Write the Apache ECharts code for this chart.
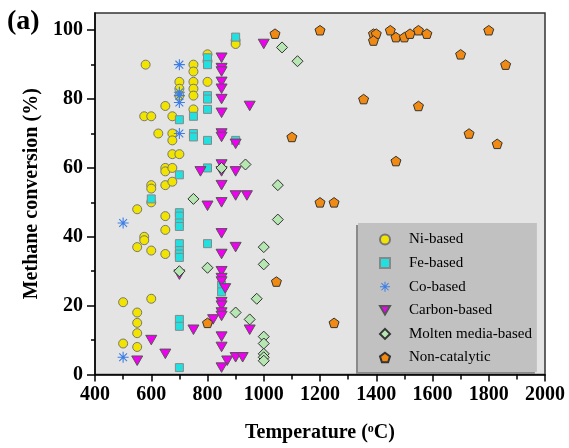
<!DOCTYPE html>
<html><head><meta charset="utf-8">
<script src="https://cdn.jsdelivr.net/npm/echarts/dist/echarts.min.js"></script>
<style>html,body{margin:0;padding:0;background:#fff}#c{width:569px;height:448px}</style>
</head><body><div id="c"></div>
<script>
// Data: [temperature (°C), methane conversion (%)]
const seriesNames = ['Ni-based','Fe-based','Co-based','Carbon-based','Molten media-based','Non-catalytic'];
const niBased = [
[580,90],[750,90],[750,88],[800,93],[800,91],[900,97],[900,96],
[700,85],[750,85],[750,83],[750,81],[800,85],[700,83],[700,81],
[650,78],[750,77],[575,75],[600,75],[675,75],
[625,70],[675,70],[675,68],[675,64],[700,64],
[650,60],[650,59],[675,60],[600,55],[600,54],[650,55],[675,56],
[600,50],[550,48],[650,46],[650,42],[575,40],[575,39],[550,37],[600,36],[650,35],
[500,21],[600,22],[550,18],[550,15],[550,12],[500,9],[550,8]
];
const feBased = [
[900,98],[800,92],[800,90],[800,81],[800,80],[800,77],[750,75],[700,74],[750,70],[750,69],
[800,68],[900,68],[700,58],[800,60],[600,51],
[700,47],[700,46],[700,44],[700,43],[700,38],[700,36],[700,35],[700,34],[800,38],
[850,26],[850,24],[700,16],[700,14],[700,2]
];
const coBased = [[700,90],[700,82],[700,81],[700,79],[700,70],[500,44],[500,5]];
const carbonBased = [
[1000,96],[850,92],[850,89],[850,88],[850,85],[850,83],[850,80],[950,78],[850,76],[850,70],
[850,69],[900,67],[775,59],[850,61],[850,59],[900,59],[850,55],[900,52],[940,52],
[800,49],[850,50],[850,41],[900,37],[850,35],[700,29],[850,30],[850,28],[850,27],[863,25],
[850,21],[850,20],[850,18],[850,17],[820,16],[750,13],[950,13],[850,11],[600,10],[850,8],
[650,6],[550,4],[870,4],[900,5],[925,5],[850,2]
];
const moltenBased = [
[935,61],[850,60],[750,51],[1065,95],[1120,91],[1050,55],[1050,45],[1000,37],[1000,32],[700,30],
[800,31],[975,22],[900,18],[950,16],[1000,11],[1000,9],[1000,6],[1000,5],[1000,4]
];
const nonCatalytic = [
[800,15],[1040,99],[1200,100],[1390,99],[1400,99],[1390,97],[1450,100],[1470,98],[1500,98],
[1355,80],[1100,69],[1470,62],[1520,99],[1550,100],[1580,99],[1800,100],[1700,93],[1860,90],
[1550,78],[1730,70],[1830,67],[1200,50],[1250,50],[1045,27],[1250,15]
];
const yMajorTicks = [0,20,40,60,80,100];
const yMinorTicks = [10,30,50,70,90];

const FONT = "'Liberation Serif','Times New Roman',serif";
const pentagon = 'path://M10 0L19.51 6.91L15.88 18.09L4.12 18.09L0.49 6.91Z';
const triDown = 'path://M0 0L20 0L10 17.3Z';
const asterisk = 'path://M0 9L20 9L20 11L0 11ZM9 0L11 0L11 20L9 20ZM3.64 2.22L17.78 16.36L16.36 17.78L2.22 3.64ZM17.78 3.64L3.64 17.78L2.22 16.36L16.36 2.22Z';

const styles = [
  {data: niBased, symbol: 'circle', size: 9, color: '#f0e400', border: '#777', bw: 1},
  {data: feBased, symbol: 'rect', size: 8, color: '#20e0e0', border: '#888', bw: 1},
  {data: coBased, symbol: asterisk, size: 11, color: '#3c7ee6', border: '#3c7ee6', bw: 0},
  {data: carbonBased, symbol: triDown, size: 11, color: '#f000f0', border: '#555', bw: 1},
  {data: moltenBased, symbol: 'diamond', size: 11, color: '#b6e6b2', border: '#333', bw: 1},
  {data: nonCatalytic, symbol: pentagon, size: 10, color: '#f08a12', border: '#333', bw: 1}
];

const chart = echarts.init(document.getElementById('c'), null, {renderer: 'canvas'});
chart.setOption({
  animation: false,
  backgroundColor: '#fff',
  textStyle: {fontFamily: FONT},
  grid: {left: 95, right: 24, top: 13, bottom: 72, show: true, backgroundColor: '#e4e4e4', borderColor: '#333', borderWidth: 1.5},
  graphic: [{type: 'text', left: 7, top: 8, style: {text: '(a)', font: "bold 28px 'Liberation Serif'", fill: '#000'}}],
  legend: {
    orient: 'vertical', left: 358, top: 223,
    backgroundColor: '#c1c1c1',
    borderWidth: 0,
    shadowColor: '#8a8a8a', shadowOffsetX: -2, shadowOffsetY: 2, shadowBlur: 0,
    padding: [9, 5, 7, 21],
    itemWidth: 10, itemHeight: 10, itemGap: 8.6,
    textStyle: {fontFamily: FONT, fontSize: 15, color: '#000', lineHeight: 14, padding: [0, 0, 0, 14]},
    data: seriesNames
  },
  xAxis: {
    type: 'value', min: 400, max: 2000, interval: 200,
    name: 'Temperature ({sup|o}C)', nameLocation: 'middle', nameGap: 48,
    nameTextStyle: {fontFamily: FONT, fontSize: 20, fontWeight: 'bold', color: '#000',
      rich: {sup: {fontFamily: FONT, fontSize: 12, fontWeight: 'bold', color: '#000', padding: [0, 0, 9, 0]}}},
    axisLine: {lineStyle: {color: '#000', width: 1.5}},
    axisTick: {show: true, length: 7, lineStyle: {color: '#000', width: 1.5}},
    minorTick: {show: true, splitNumber: 2, length: 5, lineStyle: {color: '#000', width: 1.5}},
    axisLabel: {fontFamily: FONT, fontSize: 20, fontWeight: 'bold', color: '#000', margin: 10, formatter: v => String(v)},
    splitLine: {show: false}, minorSplitLine: {show: false}
  },
  yAxis: [{
    type: 'value', min: 0, max: 105, position: 'left',
    name: 'Methane conversion (%)', nameLocation: 'middle', nameGap: 52, nameRotate: 90,
    nameTextStyle: {fontFamily: FONT, fontSize: 20, fontWeight: 'bold', color: '#000'},
    axisLine: {lineStyle: {color: '#000', width: 1.5}},
    axisTick: {show: true, length: 8, customValues: yMajorTicks, lineStyle: {color: '#000', width: 1.5}},
    axisLabel: {fontFamily: FONT, fontSize: 20, fontWeight: 'bold', color: '#000', margin: 12, customValues: yMajorTicks, formatter: v => String(v)},
    splitLine: {show: false}
  }, {
    type: 'value', min: 0, max: 105, position: 'left', offset: 0,
    axisLine: {show: false},
    axisTick: {show: true, length: 4, customValues: yMinorTicks, lineStyle: {color: '#000', width: 1.5}},
    axisLabel: {show: false},
    splitLine: {show: false}
  }],
  series: styles.map((s, i) => ({
    type: 'scatter', name: seriesNames[i], yAxisIndex: 0,
    data: s.data, symbol: s.symbol, symbolSize: s.size, symbolKeepAspect: true,
    itemStyle: {color: s.color, borderColor: s.border, borderWidth: s.bw, opacity: 1},
    emphasis: {disabled: true}
  }))
});
</script>
</body></html>
